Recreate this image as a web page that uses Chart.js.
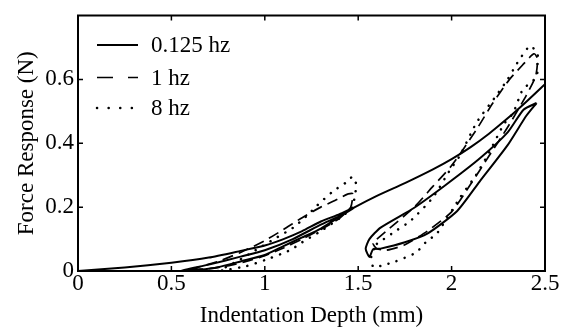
<!DOCTYPE html>
<html><head><meta charset="utf-8">
<script src="https://cdn.jsdelivr.net/npm/chart.js@4/dist/chart.umd.min.js"></script>
<style>html,body{margin:0;padding:0;background:#fff;} canvas{display:block}</style>
</head><body>
<canvas id="c" width="567" height="332"></canvas>
<script>
// ---- data ----
const xTicks = [0, 0.5, 1, 1.5, 2, 2.5];
const yTicks = [0, 0.2, 0.4, 0.6];
const seriesNames = ['0.125 hz', '1 hz', '8 hz'];

// 0.125 hz: loading envelope with first loop, then second loop
const slowAX = [0,0.25,0.5,0.7,0.87,1.0,1.1,1.2,1.3,1.4,1.48, 1.4,1.3,1.2,1.1,1.0,0.87,0.75,0.65,0.55, 0.7,0.87,1.0,1.15,1.3,1.4,1.48, 1.6,1.75,1.9,2.0,2.1,2.2,2.3,2.4,2.5];
const slowAY = [0,0.011,0.026,0.042,0.063,0.08,0.1,0.125,0.155,0.178,0.199, 0.17,0.133,0.105,0.078,0.05,0.03,0.012,0.004,0.0, 0.02,0.045,0.065,0.1,0.145,0.172,0.199, 0.235,0.275,0.318,0.35,0.387,0.43,0.478,0.53,0.585];
const slowBX = [2.455,2.4,2.3,2.15,2.03,1.87,1.75,1.62,1.58,1.56,1.54,1.56,1.62,1.8,1.97,2.15,2.3,2.385,2.455];
const slowBY = [0.526,0.486,0.394,0.28,0.188,0.117,0.09,0.07,0.068,0.044,0.07,0.1,0.136,0.198,0.27,0.352,0.434,0.505,0.526];

// 1 hz
const medAX = [0.6,0.75,0.87,1.0,1.1,1.2,1.3,1.38,1.44,1.47,1.46, 1.4,1.3,1.2,1.1,1.0,0.9,0.8,0.7,0.6];
const medAY = [0.005,0.03,0.058,0.095,0.13,0.167,0.2,0.222,0.24,0.242,0.2, 0.165,0.13,0.1,0.072,0.048,0.03,0.016,0.007,0.005];
const medBX = [1.6,1.65,1.8,1.9,2.0,2.13,2.22,2.31,2.38,2.44,2.46,2.45,2.4,2.3,2.2,2.1,2.0,1.87,1.75,1.65,1.6,1.58,1.6];
const medBY = [0.1,0.125,0.2,0.265,0.33,0.44,0.525,0.6,0.645,0.68,0.665,0.61,0.55,0.45,0.36,0.27,0.185,0.125,0.082,0.065,0.07,0.085,0.1];

// 8 hz
const fastAX = [0.75,0.85,0.95,1.05,1.15,1.22,1.28,1.366,1.43,1.47,1.49,1.48,1.47, 1.4,1.3,1.2,1.135,1.0,0.9,0.8,0.75];
const fastAY = [0.0,0.03,0.065,0.1,0.135,0.17,0.205,0.25,0.275,0.295,0.27,0.23,0.2, 0.165,0.125,0.09,0.065,0.034,0.015,0.004,0.0];
const fastBX = [1.6,1.7,1.78,1.9,1.99,2.045,2.134,2.24,2.3,2.35,2.42,2.46,2.46,2.455,2.38,2.33,2.28,2.2,2.13,2.045,1.92,1.87,1.81,1.7,1.62,1.58,1.57,1.6];
const fastBY = [0.085,0.125,0.157,0.23,0.315,0.362,0.465,0.55,0.6,0.65,0.705,0.68,0.65,0.608,0.567,0.495,0.46,0.37,0.3,0.23,0.116,0.095,0.058,0.03,0.016,0.013,0.05,0.085];

// ---- styles ----
const FONT = "'Liberation Serif', 'Times New Roman', serif";
const styles = [
  {borderWidth: 2.0, borderDash: [], cap: 'butt'},
  {borderWidth: 1.7, borderDash: [11, 6], cap: 'butt'},
  {borderWidth: 2.5, borderDash: [0.1, 8.5], cap: 'round'}
];

function pts(xs, ys) { return xs.map((x, i) => ({x: x, y: ys[i]})); }
const segs = [
  [0, slowAX, slowAY], [0, slowBX, slowBY],
  [1, medAX, medAY], [1, medBX, medBY],
  [2, fastAX, fastAY], [2, fastBX, fastBY]
];
const datasets = segs.map(([s, xs, ys]) => ({
  label: seriesNames[s],
  data: pts(xs, ys),
  showLine: true,
  pointRadius: 0,
  borderColor: '#000',
  borderWidth: styles[s].borderWidth,
  borderDash: styles[s].borderDash,
  borderCapStyle: styles[s].cap,
  tension: 0.2,
  fill: false
}));

const framePlugin = {
  id: 'frame',
  afterDatasetsDraw(chart) {
    const {ctx, chartArea: a, scales: {x, y}} = chart;
    ctx.save();
    ctx.strokeStyle = '#000';
    ctx.lineWidth = 2;
    ctx.setLineDash([]);
    ctx.strokeRect(a.left, a.top, a.right - a.left, a.bottom - a.top);
    ctx.lineWidth = 1.5;
    const L = 5;
    xTicks.slice(1, -1).forEach(v => {
      const px = x.getPixelForValue(v);
      ctx.beginPath();
      ctx.moveTo(px, a.bottom); ctx.lineTo(px, a.bottom - L);
      ctx.moveTo(px, a.top); ctx.lineTo(px, a.top + L);
      ctx.stroke();
    });
    yTicks.slice(1).forEach(v => {
      const py = y.getPixelForValue(v);
      ctx.beginPath();
      ctx.moveTo(a.left, py); ctx.lineTo(a.left + L, py);
      ctx.moveTo(a.right, py); ctx.lineTo(a.right - L, py);
      ctx.stroke();
    });
    // legend
    const rows = [45, 77.5, 108];
    ctx.font = '23px ' + FONT;
    ctx.fillStyle = '#000';
    ctx.textBaseline = 'middle';
    seriesNames.forEach((name, i) => {
      const st = styles[i];
      ctx.beginPath();
      ctx.lineWidth = st.borderWidth;
      ctx.lineCap = st.cap;
      ctx.setLineDash(i === 1 ? [16, 15] : (i === 2 ? [0.1, 11.5] : []));
      ctx.moveTo(97, rows[i]); ctx.lineTo(138, rows[i]);
      ctx.stroke();
      ctx.fillText(name, 151, rows[i] + 1);
    });
    ctx.restore();
  }
};

new Chart(document.getElementById('c'), {
  type: 'scatter',
  data: {datasets: datasets},
  options: {
    responsive: false,
    animation: false,
    devicePixelRatio: 1,
    layout: {padding: {top: 11, right: 22, left: 0, bottom: 0}},
    plugins: {legend: {display: false}, tooltip: {enabled: false}},
    scales: {
      x: {
        type: 'linear', min: 0, max: 2.5,
        afterBuildTicks: s => { s.ticks = xTicks.map(v => ({value: v})); },
        afterFit: s => { s.height = 61; },
        grid: {display: false, drawTicks: false},
        border: {display: false},
        ticks: {color: '#000', padding: 1, maxRotation: 0, autoSkip: false,
                font: {family: FONT, size: 23, lineHeight: 1.0},
                callback: v => String(v)},
        title: {display: true, text: 'Indentation Depth (mm)', color: '#000',
                font: {family: FONT, size: 23}, padding: {top: 0, bottom: 2}}
      },
      y: {
        type: 'linear', min: 0, max: 0.8,
        afterBuildTicks: s => { s.ticks = yTicks.map(v => ({value: v})); },
        afterFit: s => { s.width = 78; },
        grid: {display: false, drawTicks: false},
        border: {display: false},
        ticks: {color: '#000', padding: 4, autoSkip: false,
                font: {family: FONT, size: 23, lineHeight: 1.0},
                callback: v => String(v)},
        title: {display: true, text: 'Force Response (N)', color: '#000',
                font: {family: FONT, size: 23}, padding: {top: 13, bottom: 0}}
      }
    }
  },
  plugins: [framePlugin]
});
</script>
</body></html>
